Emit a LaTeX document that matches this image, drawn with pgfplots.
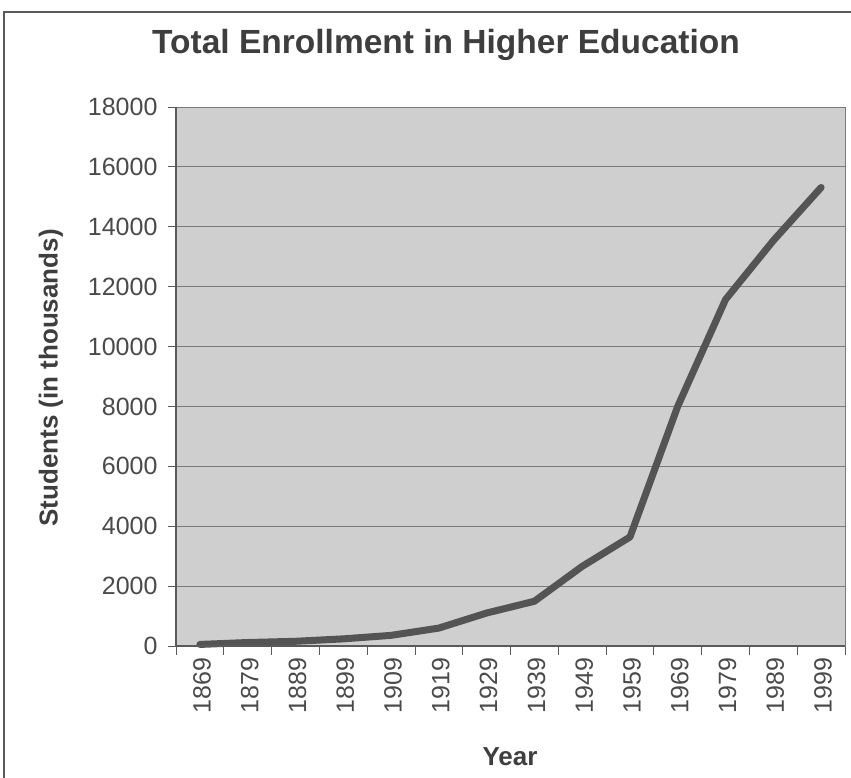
\documentclass[border=0pt]{standalone}
\usepackage{fontspec}
\setmainfont{Liberation Sans}
\usepackage{pgfplots}
\pgfplotsset{compat=1.18}

\definecolor{framegray}{HTML}{5A5A5A}
\definecolor{textgray}{HTML}{3E3E3E}
\definecolor{ticktext}{HTML}{4A4A4A}
\definecolor{plotbg}{HTML}{CFCFCF}
\definecolor{gridgray}{HTML}{7A7A7A}
\definecolor{linegray}{HTML}{545454}

\begin{document}
\begin{tikzpicture}[x=1pt,y=1pt]
\useasboundingbox (0,0) rectangle (851,778);
% outer frame
\draw[framegray, line width=2pt] (4,-5) -- (4,766) -- (860,766);

\begin{axis}[
  at={(176pt,132pt)}, anchor=south west,
  scale only axis, width=669pt, height=539pt,
  xmin=-0.5, xmax=13.5, ymin=0, ymax=18000,
  xtick={0,...,13},
  xticklabels={1869,1879,1889,1899,1909,1919,1929,1939,1949,1959,1969,1979,1989,1999},
  minor xtick={-0.5,0.5,...,13.5},
  ytick={0,2000,...,18000},
  xtick pos=bottom, ytick pos=left,
  tick align=outside,
  major x tick style={draw=none},
  minor tick length=9pt,
  major tick length=8pt,
  every tick/.style={framegray, line width=0.8pt},
  ymajorgrids,
  grid style={gridgray, line width=0.8pt},
  axis line style={gridgray, line width=0.6pt},
  axis background/.style={fill=plotbg},
  scaled y ticks=false,
  /pgf/number format/.cd, 1000 sep={}, assume math mode=true,
  /pgfplots/.cd,
  tick label style={font=\fontsize{25}{29}\selectfont, text=ticktext},
  yticklabel style={xshift=-7pt},
  xticklabel style={rotate=90, anchor=east, yshift=-2pt},
  clip=false,
]
\addplot[linegray, line width=7pt, line join=round, line cap=round] coordinates {
  (0,52) (1,116) (2,157) (3,238) (4,355) (5,598) (6,1101)
  (7,1494) (8,2659) (9,3640) (10,8005) (11,11570) (12,13539) (13,15312)
};
\draw[framegray, line width=1.2pt] (rel axis cs:0,1) -- (rel axis cs:0,0) -- (rel axis cs:1,0);
\end{axis}

\node[font=\fontsize{33.5}{38}\selectfont\bfseries, text=textgray] at (446,733) {Total Enrollment in Higher Education};
\node[font=\fontsize{26}{30}\selectfont\bfseries, text=textgray, rotate=90] at (51,400) {Students (in thousands)};
\node[font=\fontsize{26}{30}\selectfont\bfseries, text=textgray] at (510,21) {Year};
\end{tikzpicture}
\end{document}
